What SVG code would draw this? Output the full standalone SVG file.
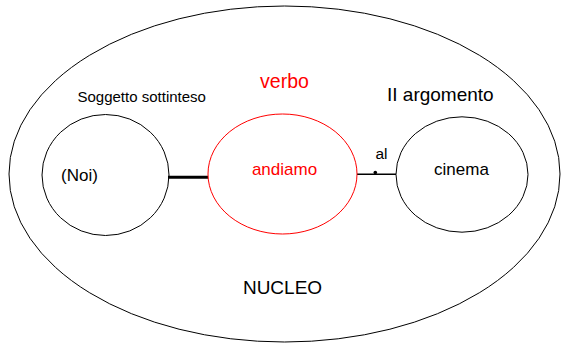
<svg xmlns="http://www.w3.org/2000/svg" width="562" height="344" viewBox="0 0 562 344">
<style>
  text { font-family: "Liberation Sans", Arial, sans-serif; fill: #000; }
  .red { fill: #ff0000; }
  .shape { fill: none; stroke: #000; stroke-width: 1; }
  .redshape { fill: none; stroke: #ff0000; stroke-width: 1; }
</style>
<rect width="562" height="344" fill="#fff"/>
<g id="nucleo">
  <ellipse class="shape" cx="284.5" cy="174" rx="275.5" ry="168"/>
  <text x="282.5" y="293.5" font-size="19" text-anchor="middle">NUCLEO</text>
</g>
<g id="connectors">
  <line x1="168" y1="177.3" x2="208" y2="177.3" stroke="#000" stroke-width="3"/>
  <line x1="357" y1="174.3" x2="396" y2="174.3" stroke="#000" stroke-width="1.5"/>
  <circle cx="375.3" cy="172.6" r="1.8" fill="#000"/>
  <text x="375.5" y="158.5" font-size="15.5">al</text>
</g>
<g id="soggetto">
  <ellipse class="shape" cx="105.5" cy="175" rx="63.5" ry="60.5"/>
  <text x="77.5" y="102" font-size="15">Soggetto sottinteso</text>
  <text x="61" y="181" font-size="17">(Noi)</text>
</g>
<g id="verbo">
  <ellipse class="redshape" cx="282.5" cy="174" rx="74.5" ry="60"/>
  <text class="red" x="284.5" y="88" font-size="19.5" text-anchor="middle">verbo</text>
  <text class="red" x="284.5" y="175" font-size="17" text-anchor="middle">andiamo</text>
</g>
<g id="argomento">
  <ellipse class="shape" cx="462" cy="174.5" rx="66" ry="57.7"/>
  <text x="387" y="101" font-size="19">II argomento</text>
  <text x="461.5" y="175" font-size="17" text-anchor="middle">cinema</text>
</g>
</svg>
